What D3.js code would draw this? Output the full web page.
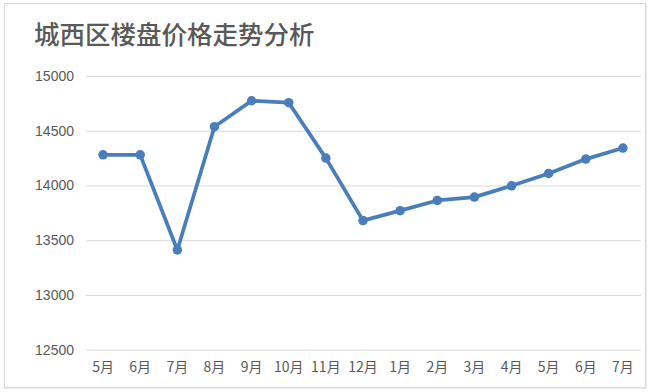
<!DOCTYPE html>
<html><head><meta charset="utf-8">
<script src="https://cdn.jsdelivr.net/npm/d3@7"></script>
<style>html,body{margin:0;padding:0;background:#fff;}svg{display:block;}</style>
</head><body>
<script>
const title = "城西区楼盘价格走势分析";
const categories = ["5月","6月","7月","8月","9月","10月","11月","12月","1月","2月","3月","4月","5月","6月","7月"];
const prices = [14280,14280,13411,14537,14774,14756,14250,13679,13770,13863,13894,13997,14110,14241,14342];
const yTicks = [12500,13000,13500,14000,14500,15000];

const W = 650, H = 392;
const svg = d3.select("body").append("svg").attr("width", W).attr("height", H);
// chart border
svg.append("rect").attr("x",4.5).attr("y",3.5).attr("width",641).attr("height",384)
  .attr("fill","#fff").attr("stroke","#d9d9d9").attr("stroke-width",1);
svg.append("line").attr("x1",646.5).attr("x2",646.5).attr("y1",4).attr("y2",389).attr("stroke","#ececec").attr("stroke-width",1);
svg.append("line").attr("x1",5).attr("x2",647).attr("y1",388.5).attr("y2",388.5).attr("stroke","#ececec").attr("stroke-width",1);

const font = "'Microsoft YaHei','Noto Sans CJK SC','DejaVu Sans',sans-serif";
svg.append("text").attr("x",34).attr("y",44).text(title)
  .attr("font-family",font).attr("font-size",25.5).attr("font-weight",500).attr("fill","#595959");

const x = d3.scaleBand().domain(d3.range(categories.length)).range([84.5,641.5]);
const y = d3.scaleLinear().domain([12500,15000]).range([349.7,76]);

const gy = svg.append("g").attr("transform","translate(86,0)")
  .call(d3.axisLeft(y).tickValues(yTicks).tickSize(-555).tickPadding(12).tickFormat(d3.format("d")));
gy.select(".domain").remove();
gy.selectAll(".tick line").attr("stroke","#d9d9d9").attr("stroke-width",1);
gy.selectAll(".tick text").attr("font-family","'Liberation Sans',Arial,sans-serif").attr("font-size",14).attr("fill","#595959");

const gx = svg.append("g").attr("transform","translate(0,349.7)")
  .call(d3.axisBottom(x).tickSize(0).tickPadding(12).tickFormat(i => categories[i]));
gx.select(".domain").remove();
gx.selectAll(".tick text").attr("font-family",font).attr("font-size",14).attr("fill","#595959");

const cx = i => x(i) + x.bandwidth()/2;
svg.append("path").datum(prices)
  .attr("d", d3.line().x((d,i)=>cx(i)).y(d=>y(d)))
  .attr("fill","none").attr("stroke","#4a7ebb").attr("stroke-width",3.75).attr("stroke-linejoin","round");
svg.selectAll("circle.pt").data(prices).enter().append("circle")
  .attr("class","pt").attr("cx",(d,i)=>cx(i)).attr("cy",d=>y(d)).attr("r",4.75).attr("fill","#4a7ebb");
</script>
</body></html>
